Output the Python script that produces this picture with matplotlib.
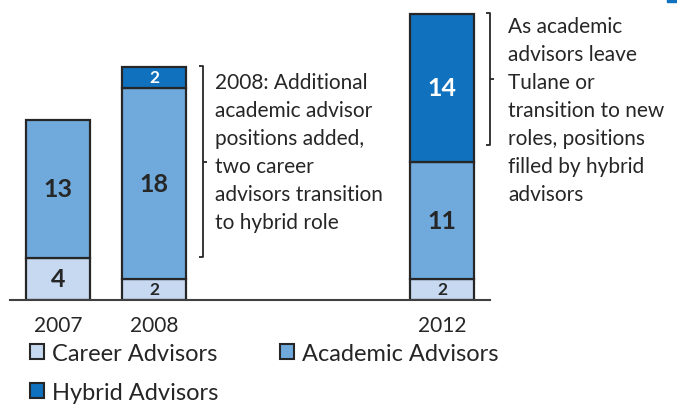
import matplotlib.pyplot as plt
from matplotlib.patches import Patch, Rectangle

plt.rcParams["font.family"] = ["Lato", "DejaVu Sans"]

# advisor headcount by year
years = ["2007", "2008", "2012"]
x_pos = [0, 1, 4]
career = [4, 2, 2]
academic = [13, 18, 11]
hybrid = [0, 2, 14]

series_names = ["Career Advisors", "Academic Advisors", "Hybrid Advisors"]
colors = ["#C6D9F0", "#70AADD", "#1071BE"]
label_colors = ["#262626", "#262626", "#FFFFFF"]

note_2008 = ("2008: Additional\nacademic advisor\npositions added,\n"
             "two career\nadvisors transition\nto hybrid role")
note_2012 = ("As academic\nadvisors leave\nTulane or\ntransition to new\n"
             "roles, positions\nfilled by hybrid\nadvisors")

text_col = "#262626"
edge_col = "#262626"

fig = plt.figure(figsize=(6.77, 4.06), dpi=100)
ax = fig.add_axes([10 / 677, 105 / 406, 480 / 677, 296.8 / 406])
ax.set_xlim(-0.5, 4.5)
ax.set_ylim(0, 28)

bottoms = [0, 0, 0]
for vals, col, lcol in zip([career, academic, hybrid], colors, label_colors):
    for x, v, b in zip(x_pos, vals, bottoms):
        if v == 0:
            continue
        ax.bar(x, v, bottom=b, width=0.667, color=col, edgecolor=edge_col,
               linewidth=1.6, zorder=2)
        size = 18 if v >= 4 else 12.5
        ax.text(x, b + v / 2, str(v), ha="center", va="center",
                fontsize=size, fontweight="bold", color=lcol, zorder=3)
    bottoms = [b + v for b, v in zip(bottoms, vals)]

for side in ["top", "left", "right"]:
    ax.spines[side].set_visible(False)
ax.spines["bottom"].set_color("#404040")
ax.spines["bottom"].set_linewidth(1.5)
ax.set_yticks([])
ax.set_xticks(x_pos)
ax.set_xticklabels(years, fontsize=15, color=text_col)
ax.tick_params(axis="x", length=0, pad=11)


def bracket(x, y0, y1, ymid, hook=0.045):
    kw = dict(color="#262626", lw=1.3, clip_on=False, solid_capstyle="butt")
    ax.plot([x - hook, x, x, x - hook], [y1, y1, y0, y0], **kw)
    ax.plot([x, x + hook], [ymid, ymid], **kw)


bracket(1.51, 4.06, 22.08, 13.0)
ax.text(1.635, 14.0, note_2008, ha="left", va="center", fontsize=15,
        color=text_col, linespacing=1.5)

bracket(4.5, 14.6, 27.07, 20.85)
ax.text(4.69, 17.97, note_2012, ha="left", va="center", fontsize=15,
        color=text_col, linespacing=1.5, clip_on=False)

handles = [Patch(facecolor=c, edgecolor=edge_col, linewidth=1.5) for c in colors]
order = [0, 2, 1]
fig.legend([handles[i] for i in order], [series_names[i] for i in order],
           loc="upper left", bbox_to_anchor=(30 / 677, 0.152), ncol=2,
           frameon=False, fontsize=17, handlelength=0.6, handleheight=0.6,
           handletextpad=0.34, columnspacing=2.6, labelspacing=0.74,
           borderpad=0, borderaxespad=0, labelcolor=text_col)

# slide corner accent
fig.patches.append(Rectangle((667 / 677, 1 - 3 / 406), 10 / 677, 3 / 406,
                             transform=fig.transFigure, color="#1071BE"))

fig.savefig("out.png", dpi=100)
